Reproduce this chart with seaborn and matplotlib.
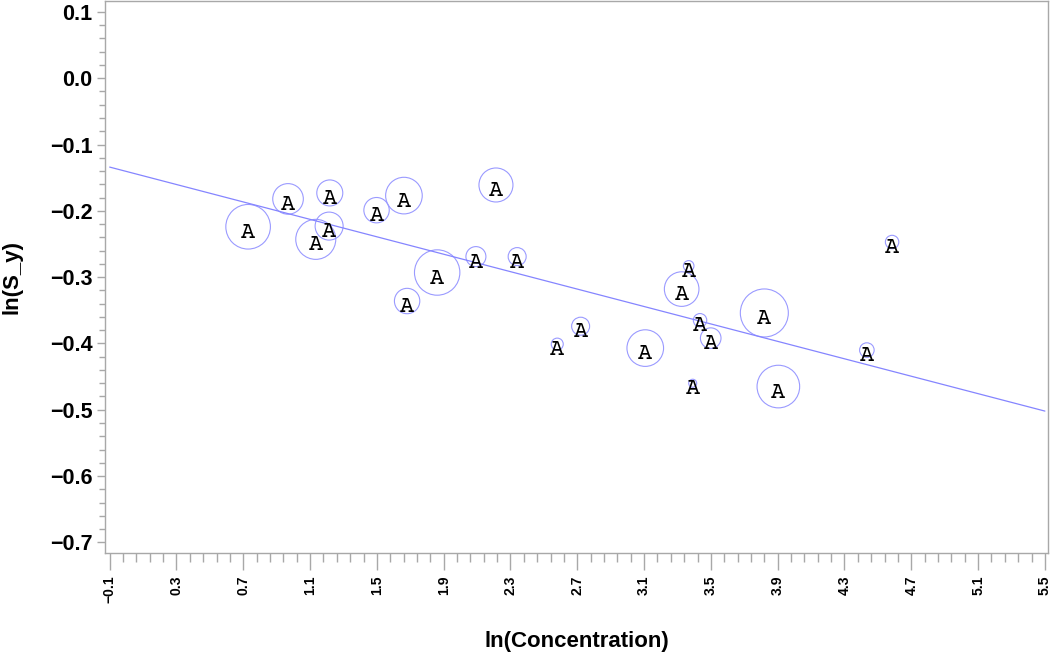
import numpy as np
import matplotlib
matplotlib.use("Agg")
import matplotlib.pyplot as plt
import matplotlib.transforms as mtransforms
from matplotlib.font_manager import FontProperties
import seaborn as sns
from matplotlib.ticker import FuncFormatter

# values
ln_conc = [0.729, 0.968, 1.218, 1.134, 1.214, 1.498, 1.662, 2.213, 1.861, 2.093, 2.340, 1.681,
           2.580, 2.720, 3.107, 3.367, 3.325, 3.435, 3.499, 3.391, 3.820, 3.904, 4.434, 4.585]
ln_sy = [-0.224, -0.182, -0.173, -0.243, -0.223, -0.199, -0.177, -0.161, -0.293, -0.269, -0.269, -0.336,
         -0.401, -0.374, -0.407, -0.283, -0.318, -0.365, -0.392, -0.460, -0.354, -0.465, -0.410, -0.247]
weight = [497, 234, 169, 400, 196, 161, 335, 289, 515, 100, 81, 161,
          36, 81, 335, 28, 299, 45, 106, 16, 576, 454, 53, 45]
labels = ["A"] * len(ln_conc)

# fitted line
fit_x = [-0.1, 5.5]
fit_y = [-0.134, -0.502]

sns.set_style("ticks")
plt.rcParams['font.family'] = ['Liberation Sans', 'DejaVu Sans']
plt.rcParams['text.color'] = 'black'
plt.rcParams['axes.labelcolor'] = 'black'

fig = plt.figure(figsize=(10.5, 6.58), dpi=100)
ax = fig.add_axes([0.1, 0.159, 0.898, 0.84])

circ_col = '#9a9aff'
k = 1.44 ** 2
sns.scatterplot(x=ln_conc, y=ln_sy, size=weight, size_norm=(0, max(weight)),
                sizes=(0, max(weight) * k), legend=False, ax=ax, marker='o')
pts = ax.collections[-1]
pts.set_facecolor('none')
pts.set_edgecolor(circ_col)
pts.set_linewidth(0.8)

sns.lineplot(x=fit_x, y=fit_y, color='#8585ff', linewidth=0.9, ax=ax)

# courier-like serif monospace for the point labels
mono = FontProperties(family=['Courier Prime', 'Cutive Mono', 'Nimbus Mono PS',
                              'Courier New', 'Liberation Mono'], size=17)
shift = ax.transData + mtransforms.ScaledTranslation(0, -8 / 72, fig.dpi_scale_trans)
for xv, yv, lab in zip(ln_conc, ln_sy, labels):
    ax.text(xv, yv, lab, transform=shift, ha='center', va='baseline',
            fontproperties=mono, color='black')

ax.set_xlim(-0.128, 5.518)
ax.set_ylim(-0.7166, 0.117)

ax.set_xticks(np.round(np.arange(-0.1, 5.51, 0.4), 2))
ax.set_xticks(np.round(np.arange(-0.1, 5.51, 0.08), 2), minor=True)
ax.set_yticks(np.round(np.arange(-0.7, 0.11, 0.1), 2))
ax.set_yticks(np.round(np.arange(-0.7, 0.11, 0.02), 2), minor=True)

fmt = FuncFormatter(lambda v, p: f"{v:.1f}".replace('-', '\u2212') if abs(v) > 1e-9 else "0.0")
ax.xaxis.set_major_formatter(fmt)
ax.yaxis.set_major_formatter(fmt)

gray = '#a8a8a8'
for s in ax.spines.values():
    s.set_color(gray)
    s.set_linewidth(1)

ax.tick_params(axis='x', which='major', length=12, width=1, color=gray, pad=4,
               labelsize=10, labelrotation=90, labelcolor='black')
ax.tick_params(axis='x', which='minor', length=6.5, width=1, color=gray)
ax.tick_params(axis='y', which='major', length=6, width=1, color=gray, pad=3,
               labelsize=15.5, labelcolor='black')
ax.tick_params(axis='y', which='minor', length=4, width=1, color=gray)
for t in ax.get_xticklabels() + ax.get_yticklabels():
    t.set_fontweight('bold')

ax.set_xlabel('ln(Concentration)', fontsize=16, fontweight='bold', color='black')
ax.set_ylabel('ln(S_y)', fontsize=16, fontweight='bold', color='black')
ax.xaxis.set_label_coords(0.5, -0.1405)
ax.yaxis.set_label_coords(-0.087, 0.5)

plt.savefig('out.png', dpi=100)
